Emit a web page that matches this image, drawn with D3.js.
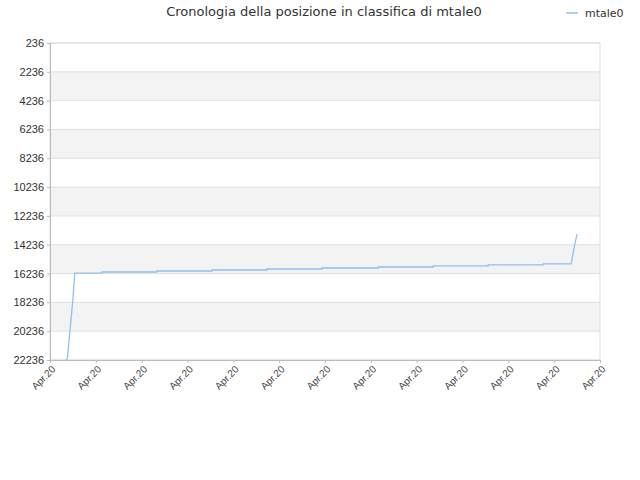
<!DOCTYPE html>
<html><head><meta charset="utf-8">
<script src="https://cdn.jsdelivr.net/npm/d3@7"></script>
<style>body{margin:0;background:#fff;font-family:"DejaVu Sans",sans-serif}</style>
</head><body><svg id="c" width="640" height="480"></svg>
<script>
const title = "Cronologia della posizione in classifica di mtale0";
const seriesName = "mtale0";
const xTickLabels = ["Apr.20","Apr.20","Apr.20","Apr.20","Apr.20","Apr.20","Apr.20","Apr.20","Apr.20","Apr.20","Apr.20","Apr.20","Apr.20"];
const yTicks = [236,2236,4236,6236,8236,10236,12236,14236,16236,18236,20236,22236];
const xs =    [0.35, 0.38, 0.5, 0.54, 1.13, 1.13, 2.33, 2.33, 3.53, 3.53, 4.73, 4.73, 5.93, 5.93, 7.16, 7.16, 8.36, 8.36, 9.56, 9.56, 10.76, 10.76, 11.37, 11.45, 11.5];
const ranks = [22236,22100,18000,16200,16200,16130,16130,16060,16060,15990,15990,15920,15920,15850,15850,15780,15780,15710,15710,15640,15640,15570,15570,14200,13500];

const svg = d3.select("#c");
const m = {l:50, r:600, t:43, b:360};
const x = d3.scaleLinear().domain([0,12]).range([m.l,m.r]);
const y = d3.scaleLinear().domain([236,22236]).range([m.t,m.b]);

for(let i=0;i<yTicks.length-1;i++){
  svg.append("rect").attr("x",m.l).attr("width",m.r-m.l)
    .attr("y",y(yTicks[i])).attr("height",y(yTicks[i+1])-y(yTicks[i]))
    .attr("fill", i%2 ? "#f3f3f3" : "#ffffff");
}
yTicks.forEach(t=>svg.append("line").attr("x1",m.l).attr("x2",m.r).attr("y1",y(t)).attr("y2",y(t)).attr("stroke","#e0e0e0"));
svg.append("rect").attr("x",m.l).attr("y",m.t).attr("width",m.r-m.l).attr("height",m.b-m.t).attr("fill","none").attr("stroke","#ddd");

const ya = svg.append("g").attr("transform",`translate(${m.l},0)`)
  .call(d3.axisLeft(y).tickValues(yTicks).tickSize(3).tickFormat(d=>d));
ya.select(".domain").attr("stroke","#bbb");
ya.selectAll("line").attr("stroke","#bbb");
ya.selectAll("text").attr("fill","#333").style("font-size","11px");

const xa = svg.append("g").attr("transform",`translate(0,${m.b})`)
  .call(d3.axisBottom(x).tickValues(d3.range(13)).tickSize(3).tickFormat(i=>xTickLabels[i]));
xa.select(".domain").attr("stroke","#bbb");
xa.selectAll("line").attr("stroke","#bbb");
xa.selectAll("text").attr("fill","#444").style("font-size","10px")
  .attr("text-anchor","end").attr("dx","-0.3em").attr("dy","0.5em")
  .attr("transform","rotate(-45)");

svg.append("path").datum(xs.map((v,i)=>[v,ranks[i]]))
  .attr("d",d3.line().x(d=>x(d[0])).y(d=>y(d[1])))
  .attr("fill","none").attr("stroke","#90bff0").attr("stroke-width",1.3);

svg.append("text").attr("x",324).attr("y",16).attr("text-anchor","middle")
  .attr("fill","#333").style("font-size","13px").text(title);
svg.append("line").attr("x1",566).attr("x2",578).attr("y1",13).attr("y2",13).attr("stroke","#90bff0").attr("stroke-width",1.5);
svg.append("text").attr("x",585).attr("y",17).attr("fill","#333").style("font-size","11px").text(seriesName);
</script></body></html>
